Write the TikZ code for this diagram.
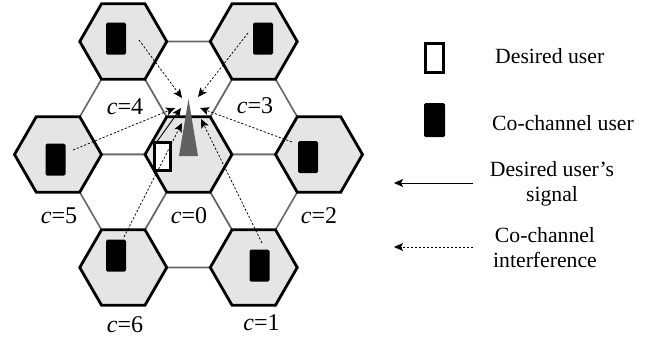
\documentclass[tikz,border=0pt]{standalone}
\usepackage{fontspec}
\setmainfont{Liberation Serif}
\usetikzlibrary{arrows.meta}
\begin{document}
\begin{tikzpicture}[x=1pt,y=-1pt,
  hexw/.style={draw=black!60, line width=1.6pt, fill=white, line join=miter},
  hexg/.style={draw=black, line width=2.8pt, fill=black!10, line join=miter},
  cochan/.style={fill=black, rounded corners=1.5pt, minimum width=20pt, minimum height=32pt, inner sep=0pt},
  desired/.style={draw=black, line width=2.8pt, fill=white, minimum width=16.5pt, minimum height=28.5pt, inner sep=0pt},
  intf/.style={dash pattern=on 2.2pt off 1.8pt, line width=0.75pt, -{Stealth[length=9pt,width=8pt,inset=2pt]}},
  sig/.style={line width=0.9pt, -{Stealth[length=9pt,width=8pt,inset=2pt]}},
  lab/.style={font=\fontsize{24}{24}\selectfont, inner sep=0pt},
  leg/.style={font=\fontsize{21.7}{25}\selectfont, inner sep=0pt, align=center}
]
\useasboundingbox (0,0) rectangle (654,341);
\def\R{43.5}
\newcommand\hexat[3]{\draw[#1] (#2,#3) +(0:\R) -- +(60:\R) -- +(120:\R) -- +(180:\R) -- +(240:\R) -- +(300:\R) -- cycle;}
% first ring (white cells)
\hexat{hexw}{253.75}{116.83}
\hexat{hexw}{253.75}{192.17}
\hexat{hexw}{123.25}{116.83}
\hexat{hexw}{123.25}{192.17}
\hexat{hexw}{188.5}{79.16}
\hexat{hexw}{188.5}{229.84}
% co-channel cells
\hexat{hexg}{123.25}{41.5}
\hexat{hexg}{253.75}{41.5}
\hexat{hexg}{58}{154.5}
\hexat{hexg}{319}{154.5}
\hexat{hexg}{123.25}{267.5}
\hexat{hexg}{253.75}{267.5}
% centre cell
\hexat{hexg}{188.5}{154.5}
% labels
\node[lab] (l4) at (125,107) {\textit{c}=4};
\node[lab] (l3) at (255,106) {\textit{c}=3};
\node[lab] (l5) at (59,216) {\textit{c}=5};
\node[lab] (l0) at (189,216) {\textit{c}=0};
\node[lab] (l2) at (319,216) {\textit{c}=2};
\node[lab] (l6) at (125,325) {\textit{c}=6};
\node[lab] (l1) at (261.5,323) {\textit{c}=1};
% base station
\fill[black!62] (179,156) -- (198,156) -- (188.5,99) -- cycle;
% users
\node[cochan] (u4) at (116,38.5) {};
\node[cochan] (u3) at (263,38.5) {};
\node[cochan] (u5) at (55.5,159.5) {};
\node[cochan] (u2) at (308,157) {};
\node[cochan] (u6) at (116,255.5) {};
\node[cochan] (u1) at (259.5,265.5) {};
\node[desired] (ud) at (162.5,156.5) {};
% arrow ends
\coordinate (s4) at (139,40);   \coordinate (e4) at (182,98);
\coordinate (s3) at (248,33);   \coordinate (e3) at (198,97);
\coordinate (s5) at (73,150);   \coordinate (e5) at (175,108);
\coordinate (s2) at (292,142);  \coordinate (e2) at (200,108);
\coordinate (s6) at (124,237);  \coordinate (e6) at (182,123);
\coordinate (s1) at (262,243);  \coordinate (e1) at (201,119);
\coordinate (sd) at (156,143);  \coordinate (ed) at (181,108);
\draw[intf] (s4) -- (e4);
\draw[intf] (s3) -- (e3);
\draw[intf] (s5) -- (e5);
\draw[intf] (s2) -- (e2);
\draw[intf] (s6) -- (e6);
\draw[intf] (s1) -- (e1);
\draw[sig] (sd) -- (ed);
% legend
\node[desired, minimum width=18pt, minimum height=29pt, line width=2.6pt] (kd) at (434.5,58) {};
\node[cochan, minimum width=21pt, minimum height=34pt] (kc) at (434.5,120) {};
\node[leg, anchor=west] (td) at (495,56) {Desired user};
\node[leg, anchor=west] (tc) at (492,123) {Co-channel user};
\coordinate (a1s) at (473,183); \coordinate (a1e) at (394,183);
\coordinate (a2s) at (473,247); \coordinate (a2e) at (394,247);
\draw[sig] (a1s) -- (a1e);
\draw[intf] (a2s) -- (a2e);
\node[leg] (ts) at (552,184) {Desired user’s\\signal};
\node[leg] (ti) at (545,248) {Co-channel\\interference};
\end{tikzpicture}
\end{document}
